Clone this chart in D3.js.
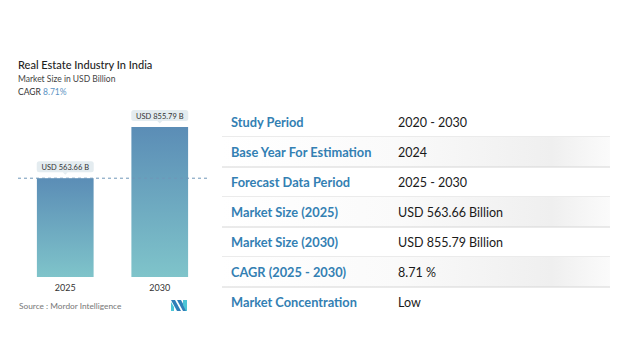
<!DOCTYPE html>
<html>
<head>
<meta charset="utf-8">
<script src="https://cdn.jsdelivr.net/npm/d3@7"></script>
<style>
  body { margin: 0; background: #fff; }
  svg { display: block; font-family: Lato, "Open Sans", sans-serif; }
</style>
</head>
<body>
<script>
const years = ["2025", "2030"];
const marketSize = [563.66, 855.79];
const barLabels = ["USD 563.66 B", "USD 855.79 B"];

const tableLabels = [
    "Study Period",
    "Base Year For Estimation",
    "Forecast Data Period",
    "Market Size (2025)",
    "Market Size (2030)",
    "CAGR (2025 - 2030)",
    "Market Concentration"
];
const tableValues = [
    "2020 - 2030",
    "2024",
    "2025 - 2030",
    "USD 563.66 Billion",
    "USD 855.79 Billion",
    "8.71 %",
    "Low"
];

const svg = d3.select("body")
    .append("svg")
    .attr("width", 621)
    .attr("height", 347);

const defs = svg.append("defs");

const barGrad = defs.append("linearGradient")
    .attr("id", "barGrad")
    .attr("x1", 0).attr("y1", 0).attr("x2", 0).attr("y2", 1);
barGrad.append("stop").attr("offset", "0%").attr("stop-color", "#5b8db6");
barGrad.append("stop").attr("offset", "100%").attr("stop-color", "#7fc4ca");

const rowGrad = defs.append("linearGradient")
    .attr("id", "rowGrad")
    .attr("x1", 0).attr("y1", 0).attr("x2", 1).attr("y2", 0);
rowGrad.append("stop").attr("offset", "0%").attr("stop-color", "#ffffff");
rowGrad.append("stop").attr("offset", "45%").attr("stop-color", "#fafafa");
rowGrad.append("stop").attr("offset", "85%").attr("stop-color", "#efefef");
rowGrad.append("stop").attr("offset", "100%").attr("stop-color", "#fbfbfb");

// header text
svg.append("text")
    .attr("x", 18).attr("y", 69)
    .attr("font-size", 11)
    .attr("font-weight", 500)
    .attr("fill", "#1e1e1e")
    .text("Real Estate Industry In India");

svg.append("text")
    .attr("x", 18).attr("y", 82)
    .attr("font-size", 8.5)
    .attr("fill", "#444")
    .text("Market Size in USD Billion");

const cagr = svg.append("text")
    .attr("x", 18).attr("y", 95)
    .attr("font-size", 8.5)
    .attr("fill", "#333");
cagr.append("tspan").text("CAGR ");
cagr.append("tspan").attr("fill", "#5b93c4").text("8.71%");

// bar chart
const x = d3.scaleBand()
    .domain(years)
    .range([18, 207])
    .paddingInner(0.4)
    .paddingOuter(0.2);

const y = d3.scaleLinear()
    .domain([0, 855.79])
    .range([277, 127]);

const chart = svg.append("g");

chart.selectAll("rect.bar")
    .data(marketSize)
    .enter().append("rect")
    .attr("class", "bar")
    .attr("x", (d, i) => x(years[i]))
    .attr("y", d => y(d))
    .attr("width", x.bandwidth())
    .attr("height", d => y(0) - y(d))
    .attr("fill", "url(#barGrad)");

// dashed reference line at first value
chart.append("line")
    .attr("x1", 18).attr("x2", 208)
    .attr("y1", y(marketSize[0])).attr("y2", y(marketSize[0]))
    .attr("stroke", "#6f97b8")
    .attr("stroke-width", 1)
    .attr("stroke-dasharray", "3,3");

// value callouts
const callout = chart.selectAll("g.callout")
    .data(marketSize)
    .enter().append("g")
    .attr("class", "callout")
    .attr("transform", (d, i) => `translate(${x(years[i]) + x.bandwidth() / 2}, ${y(d) - 11})`);

callout.append("rect")
    .attr("x", -28.5).attr("y", -6)
    .attr("width", 57).attr("height", 11)
    .attr("rx", 2.5)
    .attr("fill", "#e4ecf0");

callout.append("path")
    .attr("d", "M-2.5,5 L0,7.5 L2.5,5 Z")
    .attr("fill", "#e4ecf0");

callout.append("text")
    .attr("y", 2.6)
    .attr("text-anchor", "middle")
    .attr("font-size", 7.5)
    .attr("fill", "#333")
    .text((d, i) => barLabels[i]);

// x axis labels
chart.selectAll("text.year")
    .data(years)
    .enter().append("text")
    .attr("class", "year")
    .attr("x", d => x(d) + x.bandwidth() / 2)
    .attr("y", 291)
    .attr("text-anchor", "middle")
    .attr("font-size", 9)
    .attr("fill", "#333")
    .text(d => d);

// source + logo
svg.append("text")
    .attr("x", 19).attr("y", 309)
    .attr("font-size", 8.3)
    .attr("fill", "#777")
    .text("Source :  Mordor Intelligence");

const logo = svg.append("g").attr("transform", "translate(171, 300)");
logo.append("path").attr("d", "M0,0 L4,0 L10,11 L6,11 Z").attr("fill", "#2f7fb8");
logo.append("path").attr("d", "M0,2 L3,7 L3,11 L0,11 Z").attr("fill", "#4cc5d6");
logo.append("path").attr("d", "M6,0 L10,0 L16,11 L12,11 Z").attr("fill", "#2f7fb8");
logo.append("path").attr("d", "M12,0 L16,0 L16,11 L15,11 L12,5 Z").attr("fill", "#4cc5d6");

// table
const rowH = 30;
const tableTop = 107;
const table = svg.append("g");

const rows = table.selectAll("g.row")
    .data(tableLabels)
    .enter().append("g")
    .attr("class", "row")
    .attr("transform", (d, i) => `translate(0, ${tableTop + i * rowH})`);

rows.filter((d, i) => i % 2 === 1)
    .append("rect")
    .attr("x", 222).attr("y", 0)
    .attr("width", 388).attr("height", rowH)
    .attr("fill", "url(#rowGrad)");

rows.filter((d, i) => i < tableLabels.length - 1)
    .append("line")
    .attr("x1", 222).attr("x2", 610)
    .attr("y1", rowH).attr("y2", rowH)
    .attr("stroke", "#d6d6d6")
    .attr("stroke-width", 1);

rows.append("text")
    .attr("x", 231).attr("y", 20)
    .attr("font-size", 12.8)
    .attr("font-weight", 700)
    .attr("fill", "#3380b3")
    .text(d => d);

rows.append("text")
    .attr("x", 398).attr("y", 20)
    .attr("font-size", 12.5)
    .attr("fill", "#1a1a1a")
    .text((d, i) => tableValues[i]);
</script>
</body>
</html>
